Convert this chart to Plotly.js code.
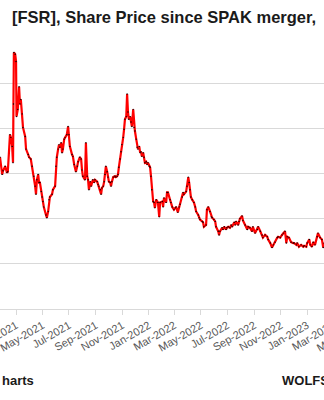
<!DOCTYPE html>
<html>
<head>
<meta charset="utf-8">
<script src="https://cdn.plot.ly/plotly-3.0.1.min.js"></script>
<style>
html, body { margin:0; padding:0; overflow:hidden; background:#fff; }
#chart { width:400px; height:400px; }
</style>
</head>
<body>
<div id="chart"></div>
<script>
// FSR share price (USD)
const dates = [
'2021-01-23','2021-01-28','2021-01-30','2021-02-04','2021-02-08','2021-02-10','2021-02-15','2021-02-17','2021-02-20','2021-02-22',
'2021-02-23','2021-02-24','2021-02-27','2021-03-01','2021-03-02','2021-03-05','2021-03-08','2021-03-10','2021-03-12','2021-03-15',
'2021-03-17','2021-03-22','2021-03-24','2021-03-29','2021-03-31','2021-04-04','2021-04-07','2021-04-11','2021-04-14','2021-04-16',
'2021-04-18','2021-04-21','2021-04-23','2021-04-25','2021-04-28','2021-04-30','2021-05-02','2021-05-04','2021-05-09','2021-05-11',
'2021-05-14','2021-05-16','2021-05-18','2021-05-23','2021-05-25','2021-05-30','2021-06-01','2021-06-03','2021-06-06','2021-06-08',
'2021-06-10','2021-06-13','2021-06-15','2021-06-17','2021-06-20','2021-06-22','2021-06-26','2021-06-29','2021-07-01','2021-07-03',
'2021-07-08','2021-07-10','2021-07-13','2021-07-17','2021-07-20','2021-07-22','2021-07-26','2021-07-29','2021-07-31','2021-08-02',
'2021-08-07','2021-08-09','2021-08-12','2021-08-14','2021-08-16','2021-08-19','2021-08-21','2021-08-25','2021-08-28','2021-08-30',
'2021-09-04','2021-09-06','2021-09-08','2021-09-11','2021-09-13','2021-09-15','2021-09-18','2021-09-20','2021-09-22','2021-09-24',
'2021-09-27','2021-09-29','2021-10-01','2021-10-04','2021-10-06','2021-10-08','2021-10-11','2021-10-15','2021-10-17','2021-10-20',
'2021-10-22','2021-10-24','2021-10-27','2021-10-29','2021-10-31','2021-11-03','2021-11-05','2021-11-07','2021-11-10','2021-11-12',
'2021-11-14','2021-11-16','2021-11-19','2021-11-21','2021-11-23','2021-11-26','2021-11-28','2021-11-30','2021-12-03','2021-12-05',
'2021-12-07','2021-12-10','2021-12-12','2021-12-14','2021-12-16','2021-12-19','2021-12-21','2021-12-23','2021-12-26','2021-12-28',
'2021-12-30','2022-01-02','2022-01-04','2022-01-06','2022-01-08','2022-01-11','2022-01-13','2022-01-15','2022-01-18','2022-01-22',
'2022-01-25','2022-01-27','2022-02-01','2022-02-03','2022-02-05','2022-02-10','2022-02-12','2022-02-14','2022-02-19','2022-02-21',
'2022-02-24','2022-02-28','2022-03-03','2022-03-05','2022-03-09','2022-03-12','2022-03-14','2022-03-19','2022-03-21','2022-03-23',
'2022-03-28','2022-03-30','2022-04-02','2022-04-04','2022-04-06','2022-04-08','2022-04-11','2022-04-15','2022-04-18','2022-04-20',
'2022-04-25','2022-04-27','2022-04-29','2022-05-04','2022-05-06','2022-05-08','2022-05-13','2022-05-15','2022-05-18','2022-05-22',
'2022-05-25','2022-05-27','2022-05-31','2022-06-03','2022-06-05','2022-06-10','2022-06-12','2022-06-14','2022-06-19','2022-06-21',
'2022-06-24','2022-06-28','2022-06-30','2022-07-03','2022-07-07','2022-07-10','2022-07-12','2022-07-17','2022-07-19','2022-07-21',
'2022-07-26','2022-07-28','2022-07-30','2022-08-04','2022-08-06','2022-08-11','2022-08-16','2022-08-18','2022-08-22','2022-08-27',
'2022-08-29','2022-09-03','2022-09-08','2022-09-10','2022-09-15','2022-09-19','2022-09-21','2022-09-26','2022-10-01','2022-10-03',
'2022-10-08','2022-10-12','2022-10-15','2022-10-19','2022-10-24','2022-10-26','2022-10-31','2022-11-04','2022-11-07','2022-11-11',
'2022-11-14','2022-11-16','2022-11-20','2022-11-25','2022-11-30','2022-12-02','2022-12-07','2022-12-09','2022-12-13','2022-12-18',
'2022-12-23','2022-12-25','2022-12-30','2023-01-01','2023-01-06','2023-01-08','2023-01-12','2023-01-15','2023-01-19','2023-01-24',
'2023-01-26','2023-01-31','2023-02-04','2023-02-07','2023-02-09'
];
const prices = [
16.8,14.9,15.3,15.8,15.1,15.2,19.3,19.0,18.0,16.2,
22.7,28.4,28.2,27.4,21.3,22.1,24.6,22.7,23.2,21.6,
20.1,19.1,17.7,17.1,16.8,16.6,15.8,14.7,13.6,12.7,
14.3,14.9,14.0,14.0,13.0,12.4,11.9,11.3,10.4,10.1,
10.8,12.1,12.4,12.7,13.2,13.6,15.8,16.8,17.7,18.2,
17.9,18.4,17.3,17.7,18.8,19.0,19.3,20.2,19.3,18.0,
17.1,16.9,16.0,15.2,15.8,16.3,16.8,16.6,15.4,14.7,
14.3,18.4,14.7,14.3,13.2,14.1,13.6,14.3,14.0,14.3,
14.1,13.8,13.6,13.2,12.7,13.4,13.6,14.1,14.9,15.8,
15.2,14.6,14.1,14.0,13.6,14.1,14.6,14.7,14.6,14.7,
14.9,15.7,16.6,17.4,18.2,19.0,19.9,21.0,21.3,23.8,
21.8,21.0,21.3,20.7,20.2,22.1,20.1,19.7,18.8,17.9,
17.7,18.0,17.3,17.4,16.9,17.3,16.8,16.2,16.3,16.0,
16.2,15.8,15.7,14.7,13.2,11.9,11.8,11.2,12.1,11.8,
10.2,11.8,11.9,11.3,12.3,11.8,12.9,12.9,12.1,11.8,
11.3,11.0,11.2,11.3,10.7,11.3,11.6,12.4,12.9,12.7,
13.0,13.6,14.6,14.0,13.2,12.4,12.1,11.8,11.3,10.8,
10.4,10.1,9.9,9.7,9.6,9.1,9.3,11.0,11.3,10.8,
10.2,10.1,9.9,9.7,9.1,8.6,8.2,8.6,9.0,8.8,
9.1,8.8,9.0,9.1,9.0,9.3,9.1,9.6,9.3,9.7,
9.3,9.7,10.0,10.3,9.8,9.3,8.8,9.1,9.0,8.6,
9.1,8.4,8.8,9.1,8.6,8.2,7.9,8.2,8.0,7.7,
7.3,6.8,7.1,7.4,7.9,8.0,7.9,8.2,8.4,8.6,
7.3,8.0,7.9,7.4,7.3,7.3,7.1,7.3,6.9,7.1,
6.9,7.0,6.9,7.3,7.7,7.1,6.9,7.4,7.1,8.0,
8.4,7.9,7.7,6.8,7.3
];
const titleText = '[FSR], Share Price since SPAK merger,';
const sourceLeft = 'harts';
const sourceRight = 'WOLFSTREET.com';

const trace = {
  x: dates, y: prices, type: 'scatter', mode: 'lines+markers',
  line: {color: '#FF0000', width: 2.2},
  marker: {color: '#000000', size: 1.4},
  hoverinfo: 'skip'
};

const layout = {
  width: 400, height: 400,
  margin: {l: 0, r: 0, t: 38, b: 91, pad: 0},
  paper_bgcolor: '#ffffff', plot_bgcolor: '#ffffff',
  showlegend: false,
  font: {family: 'Liberation Sans, Arial, sans-serif', color: '#595959'},
  title: {
    text: titleText,
    font: {family: 'Liberation Sans, Arial, sans-serif', size: 16.5, color: '#1a1a1a', weight: 'bold'},
    x: 12/400, xanchor: 'left', xref: 'container',
    y: 1 - 17/400, yanchor: 'middle', yref: 'container'
  },
  xaxis: {
    type: 'date',
    range: ['2021-01-23', '2023-08-03'],
    tickmode: 'linear', tick0: '2021-01-01', dtick: 'M2',
    tickformat: '%b-%Y', tickangle: -30,
    ticklabeloverflow: 'allow',
    tickfont: {size: 11, color: '#595959'},
    ticks: 'outside', ticklen: 5, tickcolor: '#d9d9d9',
    showgrid: false, showline: true, linecolor: '#d9d9d9', linewidth: 1,
    zeroline: false, fixedrange: true
  },
  yaxis: {
    range: [0, 30], dtick: 5, tick0: 0,
    showgrid: true, gridcolor: '#d9d9d9', gridwidth: 1,
    showticklabels: false, zeroline: false, showline: false, ticks: '',
    fixedrange: true
  },
  annotations: [
    {text: sourceLeft, xref: 'paper', yref: 'paper', x: 0, y: (309-380)/271,
     xanchor: 'left', yanchor: 'middle', showarrow: false,
     font: {size: 13, color: '#1a1a1a', weight: 'bold'}},
    {text: sourceRight, xref: 'paper', yref: 'paper', x: 280/400, y: (309-380)/271,
     xanchor: 'left', yanchor: 'middle', showarrow: false,
     font: {size: 13, color: '#1a1a1a', weight: 'bold'}}
  ]
};

Plotly.newPlot('chart', [trace], layout, {displayModeBar: false, staticPlot: true});
</script>
</body>
</html>
